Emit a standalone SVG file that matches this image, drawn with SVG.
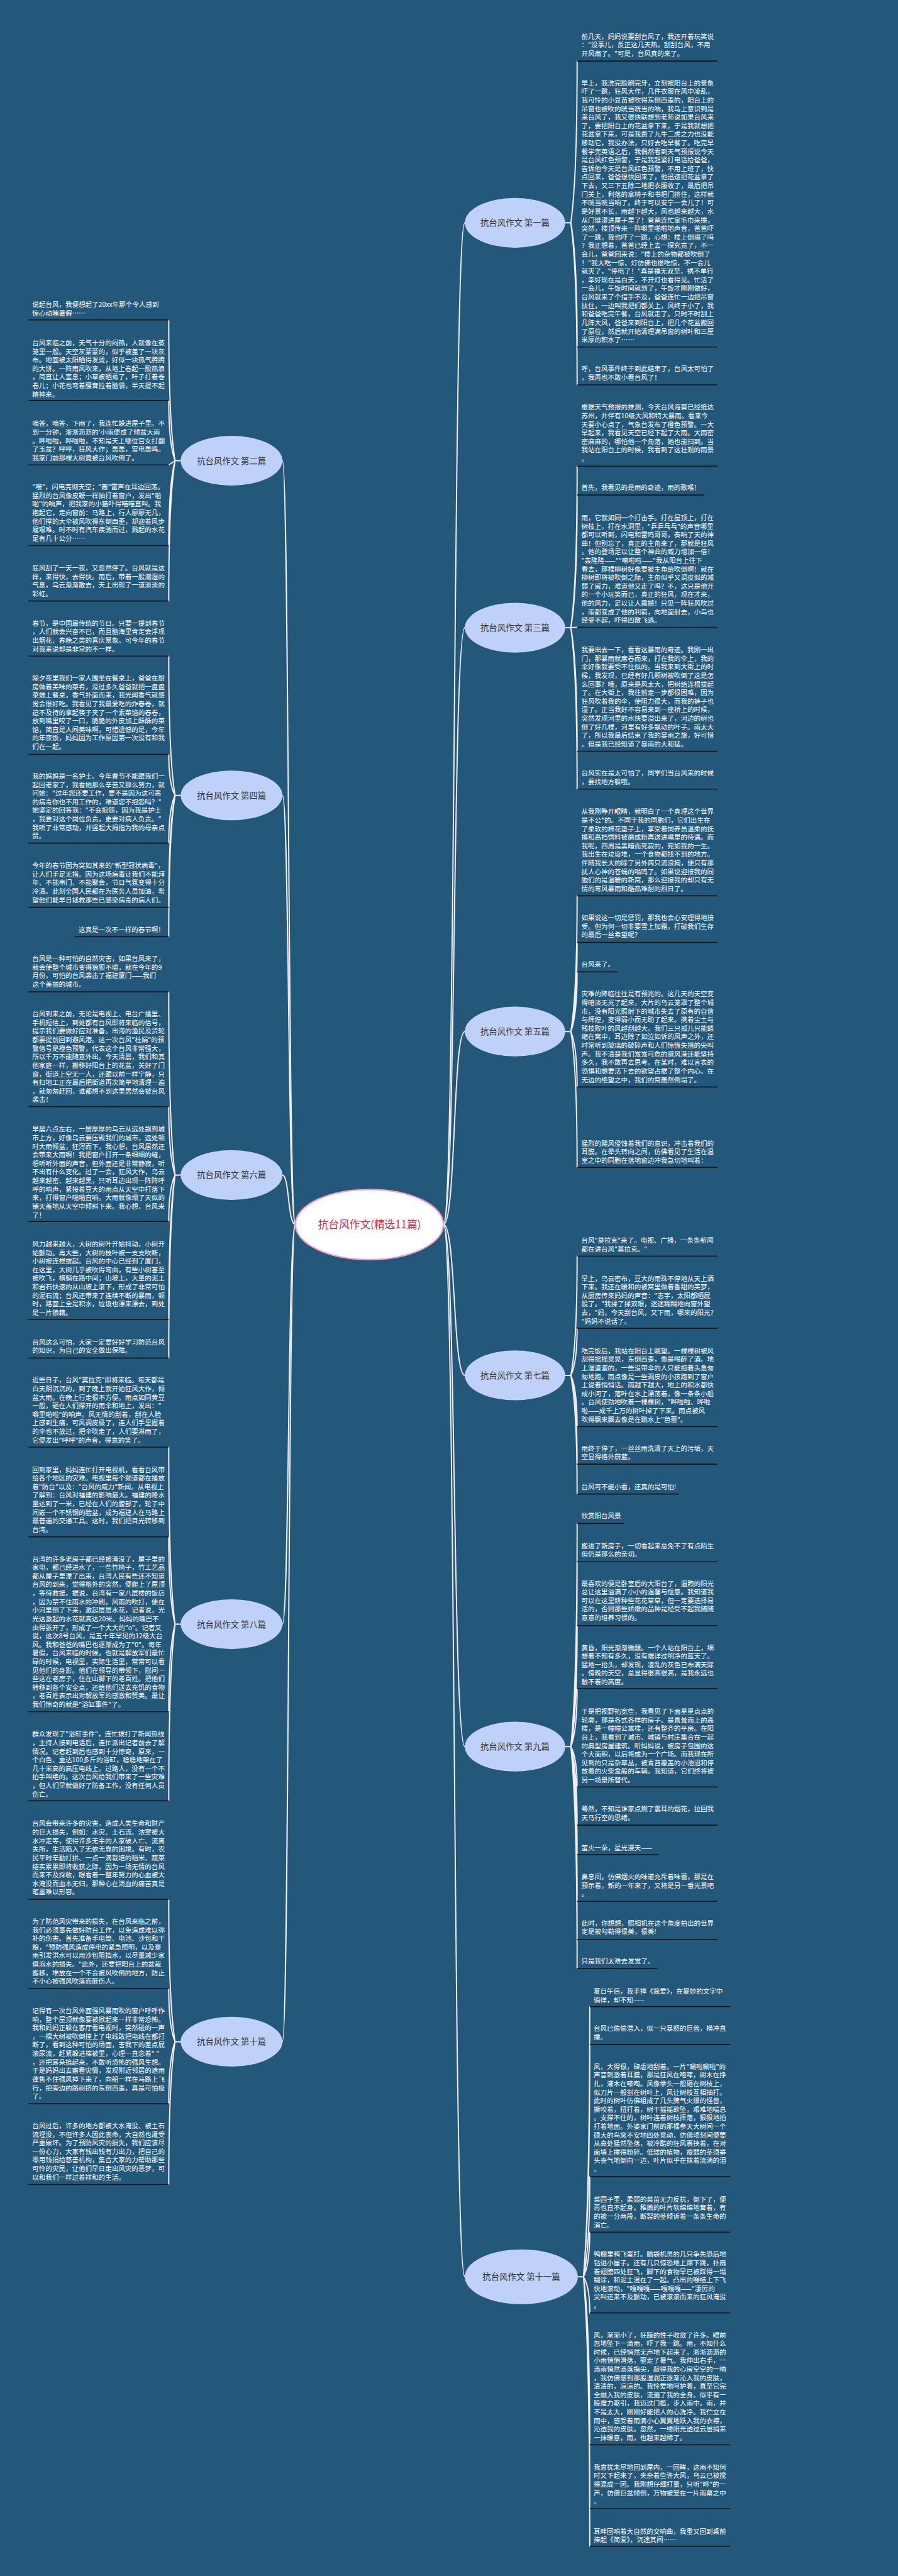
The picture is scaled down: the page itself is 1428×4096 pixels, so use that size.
<svg xmlns="http://www.w3.org/2000/svg" width="1428" height="4096" viewBox="0 0 1428 4096">
<style>
.t{font-family:"Noto Sans CJK SC","Noto Sans",sans-serif;font-size:18.9px;fill:#ffffff}
.ul{stroke:#141414;stroke-width:3;fill:none}
.c{fill:none;stroke:#f3edf5;stroke-width:3.5;stroke-linecap:round}
.bn{fill:#bfd1f8}
.bl{font-family:"Noto Sans CJK SC","Noto Sans",sans-serif;font-size:24px;fill:#333333;text-anchor:middle}
</style>
<rect width="1428" height="4096" fill="#24587a"/>
<g transform="scale(0.5579)">
<g id="connectors">
<path class="c" d="M1264 3490 C1300 3490 1290 635 1325 635"/>
<path class="c" d="M1264 3490 C1300 3490 1290 1789 1325 1789"/>
<path class="c" d="M1264 3490 C1300 3490 1290 2940 1325 2940"/>
<path class="c" d="M1264 3490 C1300 3490 1290 3920 1325 3920"/>
<path class="c" d="M1264 3490 C1300 3490 1290 4978 1325 4978"/>
<path class="c" d="M1264 3490 C1300 3490 1290 6489 1325 6489"/>
<path class="c" d="M842 3490 C820 3490 825 1313 805 1313"/>
<path class="c" d="M842 3490 C820 3490 825 2267 805 2267"/>
<path class="c" d="M842 3490 C820 3490 825 3349 805 3349"/>
<path class="c" d="M842 3490 C820 3490 825 4629 805 4629"/>
<path class="c" d="M842 3490 C820 3490 825 5819 805 5819"/>
<path class="c" d="M1611 635 H1627 M1627 635 Q1645 510 1645 174 M1627 635 Q1645 731 1645 989 M1627 635 Q1645 760 1645 1097"/>
<path class="c" d="M1611 1789 H1627 M1627 1789 Q1645 1665 1645 1329 M1627 1789 Q1645 1687 1645 1411 M1627 1789 L1645 1788 M1627 1789 Q1645 1884 1645 2141 M1627 1789 Q1645 1913 1645 2249"/>
<path class="c" d="M1611 2940 H1627 M1627 2940 Q1645 2835 1645 2553 M1627 2940 Q1645 2871 1645 2686 M1627 2940 Q1645 2894 1645 2770 M1627 2940 Q1645 2983 1645 3098 M1627 2940 Q1645 3045 1645 3327"/>
<path class="c" d="M1611 3920 H1627 M1627 3920 Q1645 3828 1645 3580 M1627 3920 Q1645 3884 1645 3786 M1627 3920 Q1645 3959 1645 4066 M1627 3920 Q1645 3988 1645 4173 M1627 3920 Q1645 4011 1645 4258"/>
<path class="c" d="M1611 4978 H1627 M1627 4978 Q1645 4806 1645 4342 M1627 4978 Q1645 4836 1645 4451 M1627 4978 Q1645 4885 1645 4633 M1627 4978 Q1645 4933 1645 4813 M1627 4978 Q1645 5009 1645 5093 M1627 4978 Q1645 5038 1645 5202 M1627 4978 Q1645 5061 1645 5286 M1627 4978 Q1645 5097 1645 5419 M1627 4978 Q1645 5126 1645 5528 M1627 4978 Q1645 5149 1645 5610"/>
<path class="c" d="M1647 6489 H1663 M1663 6489 Q1681 6281 1681 5719 M1663 6489 Q1681 6310 1681 5827 M1663 6489 Q1681 6412 1681 6204 M1663 6489 Q1681 6455 1681 6362 M1663 6489 Q1681 6517 1681 6592 M1663 6489 Q1681 6618 1681 6968 M1663 6489 Q1681 6667 1681 7150 M1663 6489 Q1681 6696 1681 7257"/>
<path class="c" d="M515 1313 H499 M499 1313 Q481 1205 481 912 M499 1313 Q481 1267 481 1142 M499 1313 L481 1325 M499 1313 Q481 1378 481 1555 M499 1313 Q481 1421 481 1713"/>
<path class="c" d="M515 2267 H499 M499 2267 Q481 2160 481 1870 M499 2267 Q481 2235 481 2150 M499 2267 Q481 2304 481 2403 M499 2267 Q481 2353 481 2586 M499 2267 Q481 2376 481 2670"/>
<path class="c" d="M515 3349 H499 M499 3349 Q481 3208 481 2827 M499 3349 Q481 3296 481 3154 M499 3349 Q481 3385 481 3481 M499 3349 Q481 3460 481 3761 M499 3349 Q481 3490 481 3871"/>
<path class="c" d="M515 4629 H499 M499 4629 Q481 4493 481 4124 M499 4629 Q481 4562 481 4380 M499 4629 Q481 4696 481 4879 M499 4629 Q481 4765 481 5132"/>
<path class="c" d="M515 5819 H499 M499 5819 Q481 5710 481 5414 M499 5819 Q481 5778 481 5668 M499 5819 Q481 5867 481 5996 M499 5819 Q481 5929 481 6226"/>
</g>
<g id="center"><ellipse cx="1053" cy="3490" rx="211" ry="100" fill="#ffffff" stroke="#f19ec2" stroke-width="4"/><text x="1053" y="3501" font-family="Noto Sans CJK SC, sans-serif" font-size="30" fill="#d9294d" text-anchor="middle">抗台风作文(精选11篇)</text></g>
<g id="n1"><ellipse class="bn" cx="1468" cy="635" rx="143" ry="71"/><text class="bl" x="1468" y="644">抗台风作文 第一篇</text></g>
<g id="n3"><ellipse class="bn" cx="1468" cy="1789" rx="143" ry="71"/><text class="bl" x="1468" y="1798">抗台风作文 第三篇</text></g>
<g id="n5"><ellipse class="bn" cx="1468" cy="2940" rx="143" ry="71"/><text class="bl" x="1468" y="2949">抗台风作文 第五篇</text></g>
<g id="n7"><ellipse class="bn" cx="1468" cy="3920" rx="143" ry="71"/><text class="bl" x="1468" y="3929">抗台风作文 第七篇</text></g>
<g id="n9"><ellipse class="bn" cx="1468" cy="4978" rx="143" ry="71"/><text class="bl" x="1468" y="4987">抗台风作文 第九篇</text></g>
<g id="n11"><ellipse class="bn" cx="1486" cy="6489" rx="161" ry="78"/><text class="bl" x="1486" y="6498">抗台风作文 第十一篇</text></g>
<g id="n2"><ellipse class="bn" cx="660" cy="1313" rx="145" ry="71"/><text class="bl" x="660" y="1322">抗台风作文 第二篇</text></g>
<g id="n4"><ellipse class="bn" cx="660" cy="2267" rx="145" ry="71"/><text class="bl" x="660" y="2276">抗台风作文 第四篇</text></g>
<g id="n6"><ellipse class="bn" cx="660" cy="3349" rx="145" ry="71"/><text class="bl" x="660" y="3358">抗台风作文 第六篇</text></g>
<g id="n8"><ellipse class="bn" cx="660" cy="4629" rx="145" ry="71"/><text class="bl" x="660" y="4638">抗台风作文 第八篇</text></g>
<g id="n10"><ellipse class="bn" cx="660" cy="5819" rx="145" ry="71"/><text class="bl" x="660" y="5828">抗台风作文 第十篇</text></g>

<g id="b1a"><text class="t"><tspan x="1657" y="110.7">前几天，妈妈说要刮台风了，我还开着玩笑说</tspan><tspan x="1657" dy="24.4">："没事儿，反正这几天热，刮刮台风，不用</tspan><tspan x="1657" dy="24.4">开风扇了。"可是，台风真的来了。</tspan></text><path class="ul" d="M1645 174 H2045"/></g>
<g id="b1b"><text class="t"><tspan x="1657" y="243.3">早上，我洗完脸刷完牙，立刻被阳台上的景象</tspan><tspan x="1657" dy="24.4">吓了一跳，狂风大作，几件衣服在风中凌乱，</tspan><tspan x="1657" dy="24.4">我可怜的小豆苗被吹得东倒西歪的，阳台上的</tspan><tspan x="1657" dy="24.4">吊窗也被吹的咣当咣当的响，我马上意识到是</tspan><tspan x="1657" dy="24.4">来台风了，我又很快联想到老师说如果台风来</tspan><tspan x="1657" dy="24.4">了，要把阳台上的花盆拿下来，于是我就想把</tspan><tspan x="1657" dy="24.4">花盆拿下来，可是我费了九牛二虎之力也没能</tspan><tspan x="1657" dy="24.4">移动它，我没办法，只好去吃早餐了。吃完早</tspan><tspan x="1657" dy="24.4">餐学完英语之后，我偶然看到天气预报说今天</tspan><tspan x="1657" dy="24.4">是台风红色预警，于是我赶紧打电话给爸爸，</tspan><tspan x="1657" dy="24.4">告诉他今天是台风红色预警，不用上班了，快</tspan><tspan x="1657" dy="24.4">点回来，爸爸很快回来了，他迅速把花盆拿了</tspan><tspan x="1657" dy="24.4">下去，又三下五除二地把衣服收了，最后把吊</tspan><tspan x="1657" dy="24.4">门关上，利落的拿椅子和书把门挤住，这样就</tspan><tspan x="1657" dy="24.4">不咣当咣当响了。终于可以安宁一会儿了！可</tspan><tspan x="1657" dy="24.4">是好景不长，雨越下越大，风也越来越大，水</tspan><tspan x="1657" dy="24.4">从门缝漫进屋子里了！爸爸连忙拿毛巾来擦，</tspan><tspan x="1657" dy="24.4">突然，楼顶传来一阵噼里啪啦地声音，爸爸吓</tspan><tspan x="1657" dy="24.4">了一跳，我也吓了一跳，心想：楼上倒塌了吗</tspan><tspan x="1657" dy="24.4">？我正想着，爸爸已经上去一探究竟了，不一</tspan><tspan x="1657" dy="24.4">会儿，爸爸回来说："楼上的杂物都被吹倒了</tspan><tspan x="1657" dy="24.4">！"我大吃一惊，灯仿佛也很吃惊，不一会儿</tspan><tspan x="1657" dy="24.4">就灭了，"停电了！"真是福无双至，祸不单行</tspan><tspan x="1657" dy="24.4">，幸好现在是白天，不开灯也看得见。忙活了</tspan><tspan x="1657" dy="24.4">一会儿，午饭时间就到了，午饭才刚刚做好，</tspan><tspan x="1657" dy="24.4">台风就来了个措手不及，爸爸连忙一边把吊窗</tspan><tspan x="1657" dy="24.4">扶住，一边叫我把们都关上，风终于小了，我</tspan><tspan x="1657" dy="24.4">和爸爸吃完午餐，台风就走了。只时不时刮上</tspan><tspan x="1657" dy="24.4">几阵大风，爸爸来到阳台上，把几个花盆搬回</tspan><tspan x="1657" dy="24.4">了原位，然后就开始清理满吊窗的树叶和三厘</tspan><tspan x="1657" dy="24.4">米厚的积水了……</tspan></text><path class="ul" d="M1645 989 H2045"/></g>
<g id="b1c"><text class="t"><tspan x="1657" y="1058">呼，台风事件终于到此结束了，台风太可怕了</tspan><tspan x="1657" dy="24.4">，我再也不敢小看台风了！</tspan></text><path class="ul" d="M1645 1097 H2045"/></g>

<g id="b3a"><text class="t"><tspan x="1657" y="1167.4">根据天气预报的推测，今天台风海葵已经抵达</tspan><tspan x="1657" dy="24.4">苏州，并伴有10级大风和特大暴雨。看来今</tspan><tspan x="1657" dy="24.4">天要小心点了，气象台发布了橙色预警。一大</tspan><tspan x="1657" dy="24.4">早起来，我看见天空已经下起了大雨。大雨密</tspan><tspan x="1657" dy="24.4">密麻麻的，哪怕他一个角落，她也能扫到。当</tspan><tspan x="1657" dy="24.4">我站在阳台上的时候，我看到了这壮观的雨景</tspan><tspan x="1657" dy="24.4">。</tspan></text><path class="ul" d="M1645 1329 H2045"/></g>
<g id="b3b"><text class="t"><tspan x="1657" y="1397">首先，我看见的是雨的奇迹，雨的歌喉！</tspan></text><path class="ul" d="M1645 1411 H2007"/></g>
<g id="b3c"><text class="t"><tspan x="1657" y="1482.2">雨，它就如同一个打击手。打在屋顶上，打在</tspan><tspan x="1657" dy="24.4">树枝上，打在水洞里，"乒乒乓乓"的声音哪里</tspan><tspan x="1657" dy="24.4">都可以听到，闪电和雷鸣哥哥，奏响了天的神</tspan><tspan x="1657" dy="24.4">曲！但别忘了，真正的主角来了，那就是狂风</tspan><tspan x="1657" dy="24.4">。他的登场足以让整个神曲的威力增加一倍！</tspan><tspan x="1657" dy="24.4">"轰隆隆——""嚓啦啦——"我从阳台上往下</tspan><tspan x="1657" dy="24.4">看去，那棵柳树好像要被主角给吹倒啊！就在</tspan><tspan x="1657" dy="24.4">柳树即将被吹倒之际，主角似乎又调皮似的减</tspan><tspan x="1657" dy="24.4">弱了威力，难道他又走了吗？不，这只是他开</tspan><tspan x="1657" dy="24.4">的一个小玩笑而已，真正的狂风，现在才来，</tspan><tspan x="1657" dy="24.4">他的风力，足以让人震撼！只见一阵狂风吹过</tspan><tspan x="1657" dy="24.4">，雨都变成了他的利箭，向地面射去，小鸟也</tspan><tspan x="1657" dy="24.4">经受不起，吓得四散飞逃。</tspan></text><path class="ul" d="M1645 1788 H2045"/></g>
<g id="b3d"><text class="t"><tspan x="1657" y="1859">我要出去一下，看看这暴雨的奇迹。我刚一出</tspan><tspan x="1657" dy="24.4">门，那暴雨就席卷而来，打在我的伞上，我的</tspan><tspan x="1657" dy="24.4">伞好像就要受不住似的。当我来到大街上的时</tspan><tspan x="1657" dy="24.4">候，我发现，已经有好几颗树被吹倒了这是怎</tspan><tspan x="1657" dy="24.4">么回事？哦，原来是风太大，把树给连根拔起</tspan><tspan x="1657" dy="24.4">了。在大街上，我往前走一步都很困难，因为</tspan><tspan x="1657" dy="24.4">狂风吹着我的伞，使阻力很大，而我的裤子也</tspan><tspan x="1657" dy="24.4">湿了。正当我好不容易来到一座桥上的时候，</tspan><tspan x="1657" dy="24.4">突然发现河里的水快要溢出来了，河边的树也</tspan><tspan x="1657" dy="24.4">倒了好几棵，河里有好多飘动的叶子。雨太大</tspan><tspan x="1657" dy="24.4">了，所以我最后结束了我的暴雨之旅，好可惜</tspan><tspan x="1657" dy="24.4">。但是我已经知道了暴雨的大和猛。</tspan></text><path class="ul" d="M1645 2141 H2045"/></g>
<g id="b3e"><text class="t"><tspan x="1657" y="2210.8">台风实在是太可怕了，同学们当台风来的时候</tspan><tspan x="1657" dy="24.4">，要找地方躲哦。</tspan></text><path class="ul" d="M1645 2249 H2045"/></g>

<g id="b5a"><text class="t"><tspan x="1657" y="2320">从我刚睁开眼睛，就明白了一个真理这个世界</tspan><tspan x="1657" dy="24.4">是不公*的。不同于我的同胞们，它们出生在</tspan><tspan x="1657" dy="24.4">了柔软的棉花垫子上，享受着饲养员温柔的抚</tspan><tspan x="1657" dy="24.4">摸和高档饲料被磨成粉再送进嘴里的待遇。而</tspan><tspan x="1657" dy="24.4">我呢，四周是黑暗而死寂的，宛如我的一生。</tspan><tspan x="1657" dy="24.4">我出生在垃圾堆，一个食物都找不到的地方。</tspan><tspan x="1657" dy="24.4">伴随我长大的除了另外两只流浪狗，便只有那</tspan><tspan x="1657" dy="24.4">扰人心神的苍蝇的嗡鸣了。如果说迎接我的同</tspan><tspan x="1657" dy="24.4">胞们的是温暖的新窝，那么迎接我的却只有无</tspan><tspan x="1657" dy="24.4">情的寒风暴雨和酷热难耐的烈日了。</tspan></text><path class="ul" d="M1645 2553 H2045"/></g>
<g id="b5b"><text class="t"><tspan x="1657" y="2622.6">如果说这一切是惩罚，那我也会心安理得地接</tspan><tspan x="1657" dy="24.4">受。但为何一切非要雪上加霜，打破我们生存</tspan><tspan x="1657" dy="24.4">的最后一丝希望呢？</tspan></text><path class="ul" d="M1645 2686 H2045"/></g>
<g id="b5c"><text class="t"><tspan x="1657" y="2755">台风来了。</tspan></text><path class="ul" d="M1645 2770 H1760"/></g>
<g id="b5d"><text class="t"><tspan x="1657" y="2840">灾难的降临往往是有预兆的。这几天的天空变</tspan><tspan x="1657" dy="24.4">得暗淡无光了起来，大片的乌云笼罩了整个城</tspan><tspan x="1657" dy="24.4">市，没有阳光照射下的城市失去了原有的自信</tspan><tspan x="1657" dy="24.4">与辉煌，变得弱小而无助了起来。携着尘土与</tspan><tspan x="1657" dy="24.4">残枝败叶的风越刮越大。我们三只孤儿只能蜷</tspan><tspan x="1657" dy="24.4">缩在窝中，耳边除了如泣如诉的风声之外，还</tspan><tspan x="1657" dy="24.4">时常听到玻璃的破碎声和人们惊慌失措的尖叫</tspan><tspan x="1657" dy="24.4">声。我不清楚我们岌岌可危的避风港还能坚持</tspan><tspan x="1657" dy="24.4">多久，我不敢再去思考。在某时，难以言表的</tspan><tspan x="1657" dy="24.4">恐惧和想要活下去的欲望占据了整个内心。在</tspan><tspan x="1657" dy="24.4">无边的绝望之中，我们的窝轰然倒塌了。</tspan></text><path class="ul" d="M1645 3098 H2045"/></g>
<g id="b5e"><text class="t"><tspan x="1657" y="3265.5">猛烈的飓风侵蚀着我们的意识，冲击着我们的</tspan><tspan x="1657" dy="24.4">耳膜。在晕头转向之间，仿佛看见了生活在温</tspan><tspan x="1657" dy="24.4">室之中的同胞在落地窗边冲我急切地叫着：</tspan></text><path class="ul" d="M1645 3327 H2045"/></g>

<g id="b7a"><text class="t"><tspan x="1657" y="3542">台风"莫拉克"来了。电视、广播，一条条新闻</tspan><tspan x="1657" dy="24.4">都在讲台风"莫拉克。"</tspan></text><path class="ul" d="M1645 3580 H2045"/></g>
<g id="b7b"><text class="t"><tspan x="1657" y="3650.5">早上，乌云密布，豆大的雨珠不停地从天上洒</tspan><tspan x="1657" dy="24.4">下来。我还在暖和的被窝里做着香甜的美梦，</tspan><tspan x="1657" dy="24.4">从厨房传来妈妈的声音："志宇，太阳都晒屁</tspan><tspan x="1657" dy="24.4">股了。"我揉了揉双眼，迷迷糊糊地向窗外望</tspan><tspan x="1657" dy="24.4">去，"妈，今天刮台风，又下雨，哪来的阳光？</tspan><tspan x="1657" dy="24.4">"妈妈不说话了。</tspan></text><path class="ul" d="M1645 3786 H2045"/></g>
<g id="b7c"><text class="t"><tspan x="1657" y="3856.8">吃完饭后，我站在阳台上眺望。一棵棵树被风</tspan><tspan x="1657" dy="24.4">刮得摇摇晃晃，东倒西歪，像是喝醉了酒。地</tspan><tspan x="1657" dy="24.4">上湿漉漉的，一些没带伞的人只能抱着头急匆</tspan><tspan x="1657" dy="24.4">匆地跑。雨点像是一些调皮的小孩跑到了窗户</tspan><tspan x="1657" dy="24.4">上说着悄悄话。雨越下越大，地上的积水都快</tspan><tspan x="1657" dy="24.4">成小河了，落叶在水上漂荡着，像一条条小船</tspan><tspan x="1657" dy="24.4">。台风使劲地吹着一棵棵树，"哗啦啦、哗啦</tspan><tspan x="1657" dy="24.4">啦——成千上万的树叶掉了下来。雨点被风</tspan><tspan x="1657" dy="24.4">吹得飘来飘去像是在跳水上"芭蕾"。</tspan></text><path class="ul" d="M1645 4066 H2045"/></g>
<g id="b7d"><text class="t"><tspan x="1657" y="4134.7">雨终于停了，一丝丝雨洗清了天上的污垢，天</tspan><tspan x="1657" dy="24.4">空显得格外蔚蓝。</tspan></text><path class="ul" d="M1645 4173 H2045"/></g>
<g id="b7e"><text class="t"><tspan x="1657" y="4245">台风可不能小看，还真的是可怕!</tspan></text><path class="ul" d="M1645 4258 H1936"/></g>

<g id="b9a"><text class="t"><tspan x="1657" y="4327.6">欣赏阳台风景</tspan></text><path class="ul" d="M1645 4342 H1778"/></g>
<g id="b9b"><text class="t"><tspan x="1657" y="4412.6">搬进了新房子，一切看起来总免不了有点陌生</tspan><tspan x="1657" dy="24.4">但仍是那么的亲切。</tspan></text><path class="ul" d="M1645 4451 H2045"/></g>
<g id="b9c"><text class="t"><tspan x="1657" y="4519.8">最喜欢的便是卧室后的大阳台了，温煦的阳光</tspan><tspan x="1657" dy="24.4">总让这里溢满了小小的温馨与惬意。我知道我</tspan><tspan x="1657" dy="24.4">可以在这里耕种些花花草草，但一定要选择易</tspan><tspan x="1657" dy="24.4">活的，否则那些娇嫩的品种是经受不起我随随</tspan><tspan x="1657" dy="24.4">意意的培养习惯的。</tspan></text><path class="ul" d="M1645 4633 H2045"/></g>
<g id="b9d"><text class="t"><tspan x="1657" y="4702.6">黄昏，阳光渐渐微醺。一个人站在阳台上，细</tspan><tspan x="1657" dy="24.4">想着不知有多久，没有端详过明净的蓝天了。</tspan><tspan x="1657" dy="24.4">猛地一抬头，却发现，凌乱的灰色已布满天际</tspan><tspan x="1657" dy="24.4">。傍晚的天空，总显得很高很高，是我永远也</tspan><tspan x="1657" dy="24.4">触不着的高度。</tspan></text><path class="ul" d="M1645 4813 H2045"/></g>
<g id="b9e"><text class="t"><tspan x="1657" y="4884.7">于是把视野拓宽些，我看见了下面星星点点的</tspan><tspan x="1657" dy="24.4">轮廓，那是各式各样的房子。是直耸而上的高</tspan><tspan x="1657" dy="24.4">楼，是一幢幢公寓楼，还有整齐的平房。在阳</tspan><tspan x="1657" dy="24.4">台上，我看到了城市、城镇与村庄集合在一起</tspan><tspan x="1657" dy="24.4">的典型房屋建筑。听妈妈说，被房子包围的这</tspan><tspan x="1657" dy="24.4">个大面积，以后将成为一个广场。而我现在所</tspan><tspan x="1657" dy="24.4">见到的只是杂草丛，被青苔覆盖的小池沼和停</tspan><tspan x="1657" dy="24.4">放着的火柴盒般的车辆。我知道，它们终将被</tspan><tspan x="1657" dy="24.4">另一场景所替代。</tspan></text><path class="ul" d="M1645 5093 H2045"/></g>
<g id="b9f"><text class="t"><tspan x="1657" y="5163">蓦然，不知是谁家点燃了震耳的烟花，拉回我</tspan><tspan x="1657" dy="24.4">天马行空的思绪。</tspan></text><path class="ul" d="M1645 5202 H2045"/></g>
<g id="b9g"><text class="t"><tspan x="1657" y="5272.5">萤火一朵，星光漫天——</tspan></text><path class="ul" d="M1645 5286 H1877"/></g>
<g id="b9h"><text class="t"><tspan x="1657" y="5355.6">鼻息间，仿佛烟火的味道充斥着味蕾，那是在</tspan><tspan x="1657" dy="24.4">预示着，新的一年来了，又将是另一番光景吧</tspan><tspan x="1657" dy="24.4">。</tspan></text><path class="ul" d="M1645 5419 H2045"/></g>
<g id="b9i"><text class="t"><tspan x="1657" y="5488">此时，你想想，照相机在这个角度拍出的世界</tspan><tspan x="1657" dy="24.4">定是被勾勒得很美，很美!</tspan></text><path class="ul" d="M1645 5528 H2045"/></g>
<g id="b9j"><text class="t"><tspan x="1657" y="5596.6">只是我们太难去发觉了。</tspan></text><path class="ul" d="M1645 5610 H1874"/></g>

<g id="b11a"><text class="t"><tspan x="1692" y="5682">夏日午后，我手捧《简爱》，在曼妙的文字中</tspan><tspan x="1692" dy="24.4">徜徉，却不知——</tspan></text><path class="ul" d="M1681 5719 H2081"/></g>
<g id="b11b"><text class="t"><tspan x="1692" y="5788">台风已偷偷潜入，似一只暴怒的巨兽，横冲直</tspan><tspan x="1692" dy="24.4">撞。</tspan></text><path class="ul" d="M1681 5827 H2081"/></g>
<g id="b11c"><text class="t"><tspan x="1692" y="5896.6">风，大得很，肆虐地刮着。一片"唰啦唰啦"的</tspan><tspan x="1692" dy="24.4">声音刺激着耳膜，那是狂风在咆哮，树木在挣</tspan><tspan x="1692" dy="24.4">扎，灌木在嚎啕。风像拳头一般砸在树枝上，</tspan><tspan x="1692" dy="24.4">似刀片一般割在树叶上，风让树枝互相抽打。</tspan><tspan x="1692" dy="24.4">此时的树叶仿佛组成了几头脾气火爆的怪兽，</tspan><tspan x="1692" dy="24.4">撕咬着，扭打着，树干摇摇欲坠，艰难地喘息</tspan><tspan x="1692" dy="24.4">。支撑不住的，树叶连着树枝摔落，狠狠地拍</tspan><tspan x="1692" dy="24.4">打着地面。外婆家门前的那棵参天大树间一个</tspan><tspan x="1692" dy="24.4">硕大的鸟窝不安地四处晃动，仿佛顷刻间便要</tspan><tspan x="1692" dy="24.4">从高处猛然坠落，被冷酷的狂风裹挟着，在对</tspan><tspan x="1692" dy="24.4">面墙上撞得粉碎。低矮的植物，瘦弱的茎须垂</tspan><tspan x="1692" dy="24.4">头丧气地倒向一边，叶片似乎在抹着流淌的泪</tspan><tspan x="1692" dy="24.4">。</tspan></text><path class="ul" d="M1681 6204 H2081"/></g>
<g id="b11d"><text class="t"><tspan x="1692" y="6275">菜园子里，柔弱的菜苗无力反抗，倒下了，便</tspan><tspan x="1692" dy="24.4">再也直不起身。稚嫩的叶片软绵绵地耷着，有</tspan><tspan x="1692" dy="24.4">的被一分两段，断裂的茎倾诉着一条条生命的</tspan><tspan x="1692" dy="24.4">消亡。</tspan></text><path class="ul" d="M1681 6362 H2081"/></g>
<g id="b11e"><text class="t"><tspan x="1692" y="6432">鸭棚里鸭飞蛋打。脑袋机灵的几只争先恐后地</tspan><tspan x="1692" dy="24.4">钻进小屋子。还有几只惊恐地上蹿下跳，扑扇</tspan><tspan x="1692" dy="24.4">着翅膀四处狂飞，脚下的食物早已被踩得一塌</tspan><tspan x="1692" dy="24.4">糊涂，和泥土混在了一起。凸出的喉结上下飞</tspan><tspan x="1692" dy="24.4">快地滚动，"嘎嘎嘎——嘎嘎嘎——"凄厉的</tspan><tspan x="1692" dy="24.4">尖叫还来不及颤动，已被滚滚而来的狂风淹没</tspan><tspan x="1692" dy="24.4">。</tspan></text><path class="ul" d="M1681 6592 H2081"/></g>
<g id="b11f"><text class="t"><tspan x="1692" y="6661.7">风，渐渐小了，狂躁的性子收敛了许多。眼前</tspan><tspan x="1692" dy="24.4">忽地坠下一滴雨，吓了我一跳。雨，不知什么</tspan><tspan x="1692" dy="24.4">时候，已经悄然无声地下起来了。淅淅沥沥的</tspan><tspan x="1692" dy="24.4">小雨悄悄滑落，驱走了暑气。我伸出右手，一</tspan><tspan x="1692" dy="24.4">滴雨悄然滴落指尖，敲得我的心房空空的一响</tspan><tspan x="1692" dy="24.4">，我仿佛感到那股湿润正逐渐沁入我的皮肤，</tspan><tspan x="1692" dy="24.4">清清的，凉凉的。我怜爱地呵护着，直至它完</tspan><tspan x="1692" dy="24.4">全融入我的皮肤，流遍了我的全身。似乎有一</tspan><tspan x="1692" dy="24.4">股魔力驱引，我迈过门槛，步入雨中。雨，并</tspan><tspan x="1692" dy="24.4">不是太大，刚刚好能把人的心洗净。我伫立在</tspan><tspan x="1692" dy="24.4">雨中，感受着雨滴小心翼翼地跃入我的衣襟，</tspan><tspan x="1692" dy="24.4">沁透我的皮肤。忽然，一缕阳光透过云层捎来</tspan><tspan x="1692" dy="24.4">一抹暖意，雨，也越来越稀了。</tspan></text><path class="ul" d="M1681 6968 H2081"/></g>
<g id="b11g"><text class="t"><tspan x="1692" y="7038.5">我意犹未尽地回到屋内，一回眸，这雨不知何</tspan><tspan x="1692" dy="24.4">时又下起来了，夹杂着些许大风，乌云已被搅</tspan><tspan x="1692" dy="24.4">得混成一团。我刚想仔细打量，只听"哗"的一</tspan><tspan x="1692" dy="24.4">声，仿佛巨盆倾倒，万物被笼在一片雨幕之中</tspan><tspan x="1692" dy="24.4">。</tspan></text><path class="ul" d="M1681 7150 H2081"/></g>
<g id="b11h"><text class="t"><tspan x="1692" y="7221">耳畔回响着大自然的交响曲，我重又回到桌前</tspan><tspan x="1692" dy="24.4">捧起《简爱》，沉迷其间……</tspan></text><path class="ul" d="M1681 7257 H2081"/></g>

<g id="b2a"><text class="t"><tspan x="92" y="875">说起台风，我便想起了20xx年那个令人感到</tspan><tspan x="92" dy="24.4">惊心动魄暑假……</tspan></text><path class="ul" d="M81 911.6 H481"/></g>
<g id="b2b"><text class="t"><tspan x="92" y="984">台风来临之前，天气十分的闷热，人就像在蒸</tspan><tspan x="92" dy="24.4">笼里一般。天空灰蒙蒙的，似乎被盖了一块灰</tspan><tspan x="92" dy="24.4">布。地面被太阳晒得发烫，好似一块热气腾腾</tspan><tspan x="92" dy="24.4">的大饼。一阵南风吹来，从地上卷起一股热浪</tspan><tspan x="92" dy="24.4">，简直让人窒息；小草被晒蔫了，叶子打着卷</tspan><tspan x="92" dy="24.4">卷儿；小花也弯着腰耷拉着脑袋，半天提不起</tspan><tspan x="92" dy="24.4">精神来。</tspan></text><path class="ul" d="M81 1141.7 H481"/></g>
<g id="b2c"><text class="t"><tspan x="92" y="1214">嘀答，嘀答，下雨了，我连忙躲进屋子里。不</tspan><tspan x="92" dy="24.4">到一分钟，淅淅沥沥的'小雨便成了倾盆大雨</tspan><tspan x="92" dy="24.4">。哗啦啦，哗啦啦，不知是天上哪位宫女打翻</tspan><tspan x="92" dy="24.4">了玉盆？呼呼，狂风大作；轰轰，雷电轰鸣。</tspan><tspan x="92" dy="24.4">我家门前那棵大树竟被台风吹倒了。</tspan></text><path class="ul" d="M81 1325 H481"/></g>
<g id="b2d"><text class="t"><tspan x="92" y="1395">"嗖"，闪电亮彻天空；"轰"雷声在耳边回荡。</tspan><tspan x="92" dy="24.4">猛烈的台风像皮鞭一样抽打着窗户，发出"啪</tspan><tspan x="92" dy="24.4">啪"的响声，把我家的小猫吓得喵喵直叫。我</tspan><tspan x="92" dy="24.4">抱起它，走向窗前：马路上，行人廖廖无几，</tspan><tspan x="92" dy="24.4">他们撑的大伞被风吹得东倒西歪，却迎着风步</tspan><tspan x="92" dy="24.4">履艰难。时不时有汽车疾驰而过，溅起的水花</tspan><tspan x="92" dy="24.4">足有几十公分……</tspan></text><path class="ul" d="M81 1555 H481"/></g>
<g id="b2e"><text class="t"><tspan x="92" y="1626">狂风刮了一天一夜，又忽然停了。台风就是这</tspan><tspan x="92" dy="24.4">样，来得快，去得快。雨后，带着一股潮湿的</tspan><tspan x="92" dy="24.4">气息，乌云渐渐散去，天上出现了一道淡淡的</tspan><tspan x="92" dy="24.4">彩虹。</tspan></text><path class="ul" d="M81 1713 H481"/></g>

<g id="b4a"><text class="t"><tspan x="92" y="1783">春节，是中国最传统的节日。只要一提到春节</tspan><tspan x="92" dy="24.4">，人们就会兴奋不已，而且脑海里肯定会浮现</tspan><tspan x="92" dy="24.4">出烟花、春晚之类的喜庆景象。可今年的春节</tspan><tspan x="92" dy="24.4">对我来说却是非常的不一样。</tspan></text><path class="ul" d="M81 1870 H481"/></g>
<g id="b4b"><text class="t"><tspan x="92" y="1939.7">除夕夜里我们一家人围坐在餐桌上，爸爸在厨</tspan><tspan x="92" dy="24.4">房做着美味的菜肴，没过多久爸爸就把一盘盘</tspan><tspan x="92" dy="24.4">菜端上餐桌，香气扑面而来，我光闻香气就感</tspan><tspan x="92" dy="24.4">觉会很好吃。我看见了我最爱吃的炸春卷，就</tspan><tspan x="92" dy="24.4">迫不及待的拿起筷子夹了一个素菜馅的春卷，</tspan><tspan x="92" dy="24.4">放到嘴里咬了一口，脆脆的外皮加上酥酥的菜</tspan><tspan x="92" dy="24.4">馅，简直是人间美味啊，可惜遗憾的是，今年</tspan><tspan x="92" dy="24.4">的年夜饭，妈妈因为工作原因第一次没有和我</tspan><tspan x="92" dy="24.4">们在一起。</tspan></text><path class="ul" d="M81 2149.7 H481"/></g>
<g id="b4c"><text class="t"><tspan x="92" y="2219">我的妈妈是一名护士。今年春节不能跟我们一</tspan><tspan x="92" dy="24.4">起回老家了，我看她那么辛苦又那么努力，就</tspan><tspan x="92" dy="24.4">问她："过年您还要工作，要不是因为这可恶</tspan><tspan x="92" dy="24.4">的病毒你也不用工作的，难道您不抱怨吗？"</tspan><tspan x="92" dy="24.4">她坚定的回答我："不会抱怨，因为我是护士</tspan><tspan x="92" dy="24.4">，我要对这个岗位负责，更要对病人负责。"</tspan><tspan x="92" dy="24.4">我听了非常感动，并竖起大拇指为我的母亲点</tspan><tspan x="92" dy="24.4">赞。</tspan></text><path class="ul" d="M81 2403 H481"/></g>
<g id="b4d"><text class="t"><tspan x="92" y="2474">今年的春节因为突如其来的"新型冠状病毒"，</tspan><tspan x="92" dy="24.4">让人们手足无措。因为这场病毒让我们不能拜</tspan><tspan x="92" dy="24.4">年、不能串门、不能聚会，节日气氛变得十分</tspan><tspan x="92" dy="24.4">冷清。此刻全国人民都在为医务人员加油，希</tspan><tspan x="92" dy="24.4">望他们能早日拯救那些已感染病毒的病人们。</tspan></text><path class="ul" d="M81 2585.7 H481"/></g>
<g id="b4e"><text class="t"><tspan x="224" y="2656">这真是一次不一样的春节啊！</tspan></text><path class="ul" d="M214 2669.7 H481"/></g>

<g id="b6a"><text class="t"><tspan x="92" y="2738.7">台风是一种可怕的自然灾害，如果台风来了，</tspan><tspan x="92" dy="24.4">就会使整个城市变得狼狈不堪，就在今年的9</tspan><tspan x="92" dy="24.4">月份，可怕的台风袭击了福建厦门——我们</tspan><tspan x="92" dy="24.4">这个美丽的城市。</tspan></text><path class="ul" d="M81 2826.8 H481"/></g>
<g id="b6b"><text class="t"><tspan x="92" y="2897">台风到来之前，无论是电视上、电台广播里、</tspan><tspan x="92" dy="24.4">手机短信上，到处都有台风即将来临的信号，</tspan><tspan x="92" dy="24.4">提示我们要做好应对准备。出海的渔民及货轮</tspan><tspan x="92" dy="24.4">都要提前回到避风港。这一次台风"杜娟"的预</tspan><tspan x="92" dy="24.4">警信号是橙色预警，代表这个台风非常强大，</tspan><tspan x="92" dy="24.4">所以千万不能随意外出。今天清晨，我们和其</tspan><tspan x="92" dy="24.4">他家庭一样，搬移好阳台上的花盆，关好了门</tspan><tspan x="92" dy="24.4">窗，街道上空无一人，还跟以前一样宁静，只</tspan><tspan x="92" dy="24.4">有扫地工正在最后把街道再次简单地清理一遍</tspan><tspan x="92" dy="24.4">，就匆匆赶回，谁都想不到这里居然会被台风</tspan><tspan x="92" dy="24.4">袭击！</tspan></text><path class="ul" d="M81 3154 H481"/></g>
<g id="b6c"><text class="t"><tspan x="92" y="3225.3">早晨六点左右，一层厚厚的乌云从远处飘到城</tspan><tspan x="92" dy="24.4">市上方，好像乌云要压毁我们的城市，远处顿</tspan><tspan x="92" dy="24.4">时大雨倾盆，狂泻而下，我心想，台风居然还</tspan><tspan x="92" dy="24.4">会带来大雨啊！我把窗户打开一条细细的缝，</tspan><tspan x="92" dy="24.4">想听听外面的声音，但外面还是非常静寂，听</tspan><tspan x="92" dy="24.4">不出有什么变化。过了一会，狂风大作，乌云</tspan><tspan x="92" dy="24.4">越来越密、越来越黑，只听耳边出现一阵阵呼</tspan><tspan x="92" dy="24.4">呼的响声，紧接着豆大的雨点从天空中打落下</tspan><tspan x="92" dy="24.4">来，打得窗户啪啪直响。大雨就像塌了天似的</tspan><tspan x="92" dy="24.4">铺天盖地从天空中倾斜下来。我心想，台风来</tspan><tspan x="92" dy="24.4">了！</tspan></text><path class="ul" d="M81 3481 H481"/></g>
<g id="b6d"><text class="t"><tspan x="92" y="3552.5">风力越来越大，大树的树叶开始抖动，小树开</tspan><tspan x="92" dy="24.4">始颤动。再大些，大树的枝叶被一支支吹断，</tspan><tspan x="92" dy="24.4">小树被连根拔起。台风的中心已经到了厦门，</tspan><tspan x="92" dy="24.4">在这里，大树几乎被吹得弯曲，有些小树甚至</tspan><tspan x="92" dy="24.4">被吹飞，横躺在路中间；山坡上，大量的泥土</tspan><tspan x="92" dy="24.4">和岩石快速的从山坡上滚下，形成了非常可怕</tspan><tspan x="92" dy="24.4">的泥石流；台风还带来了连续不断的暴雨，顿</tspan><tspan x="92" dy="24.4">时，路面上全是积水，垃圾也漂来漂去，到处</tspan><tspan x="92" dy="24.4">是一片狼籍。</tspan></text><path class="ul" d="M81 3761 H481"/></g>
<g id="b6e"><text class="t"><tspan x="92" y="3831.4">台风这么可怕，大家一定要好好学习防范台风</tspan><tspan x="92" dy="24.4">的知识，为自己的安全做出保障。</tspan></text><path class="ul" d="M81 3870.6 H481"/></g>

<g id="b8a"><text class="t"><tspan x="92" y="3940.3">近些日子，台风"莫拉克"即将来临。每天都是</tspan><tspan x="92" dy="24.4">白天阴沉沉的，到了晚上就开始狂风大作，倾</tspan><tspan x="92" dy="24.4">盆大雨。在晚上行走很不方便。雨点如同黄豆</tspan><tspan x="92" dy="24.4">一般，砸在人们撑开的雨伞和地上，发出："</tspan><tspan x="92" dy="24.4">噼里啪啦"的响声。风无情的刮着，刮在人脸</tspan><tspan x="92" dy="24.4">上感到生痛，可风调皮极了，连人们手里握着</tspan><tspan x="92" dy="24.4">的伞也不放过，把伞吹走了，人们要淋雨了，</tspan><tspan x="92" dy="24.4">它便发出"呼呼"的声音，得意的笑了。</tspan></text><path class="ul" d="M81 4124.4 H481"/></g>
<g id="b8b"><text class="t"><tspan x="92" y="4195.4">回到家里，妈妈连忙打开电视机，看看台风带</tspan><tspan x="92" dy="24.4">给各个地区的灾难。电视里每个频道都在播放</tspan><tspan x="92" dy="24.4">着"防台"以及："台风的威力"新闻。从电视上</tspan><tspan x="92" dy="24.4">了解到：台风对福建的影响最大。福建的降水</tspan><tspan x="92" dy="24.4">量达到了一米，已经在人们的腹部了，轮子中</tspan><tspan x="92" dy="24.4">间嵌一个不锈钢的脸盆，成为福建人在马路上</tspan><tspan x="92" dy="24.4">最普遍的交通工具。这时，我们把目光转移到</tspan><tspan x="92" dy="24.4">台湾。</tspan></text><path class="ul" d="M81 4380 H481"/></g>
<g id="b8c"><text class="t"><tspan x="92" y="4450">台湾的许多老房子都已经被淹没了，屋子里的</tspan><tspan x="92" dy="24.4">家电，都已经进水了，一些竹椅子，竹工艺品</tspan><tspan x="92" dy="24.4">都从屋子里漂了出来，台湾人民有些还不知道</tspan><tspan x="92" dy="24.4">台风的到来，觉得格外的突然，便爬上了屋顶</tspan><tspan x="92" dy="24.4">，等待救援。据说，台湾有一家八层楼的饭店</tspan><tspan x="92" dy="24.4">，因为禁不住雨水的冲刷，风雨的吹打，便在</tspan><tspan x="92" dy="24.4">小河里倒了下来，激起层层水花，记者说，光</tspan><tspan x="92" dy="24.4">光这激起的水花就高达20米。妈妈的嘴巴不</tspan><tspan x="92" dy="24.4">由得张开了，形成了一个大大的"o"。记者又</tspan><tspan x="92" dy="24.4">说，这次8号台风，是五十年罕见的12级大台</tspan><tspan x="92" dy="24.4">风。我和爸爸的嘴巴也逐渐成为了"0"。每年</tspan><tspan x="92" dy="24.4">暑假，台风来临的时候，也就是解放军们最忙</tspan><tspan x="92" dy="24.4">碌的时候，电视里，实际生活里，常常可以看</tspan><tspan x="92" dy="24.4">见他们的身影。他们在领导的带领下，慰问一</tspan><tspan x="92" dy="24.4">些这在老房子，住在山脚下的老百姓。把他们</tspan><tspan x="92" dy="24.4">转移到各个安全点，还给他们送去充饥的食物</tspan><tspan x="92" dy="24.4">，老百姓表示出对解放军的感激和赞美。最让</tspan><tspan x="92" dy="24.4">我们惊奇的就是"浴缸事件"了。</tspan></text><path class="ul" d="M81 4878.6 H481"/></g>
<g id="b8d"><text class="t"><tspan x="92" y="4949.6">群众发现了"浴缸事件"，连忙拨打了新闻热线</tspan><tspan x="92" dy="24.4">，主持人接到电话后，连忙派出记者前去了解</tspan><tspan x="92" dy="24.4">情况。记者赶到后也感到十分惊奇，原来，一</tspan><tspan x="92" dy="24.4">个白色、重达100多斤的浴缸，稳稳地架在了</tspan><tspan x="92" dy="24.4">几十米高的高压电线上。过路人，没有一个不</tspan><tspan x="92" dy="24.4">拍手叫绝的。这次台风给我们带来了一些灾难</tspan><tspan x="92" dy="24.4">，但人们早就做好了防备工作，没有任何人员</tspan><tspan x="92" dy="24.4">伤亡。</tspan></text><path class="ul" d="M81 5132.4 H481"/></g>

<g id="b10a"><text class="t"><tspan x="92" y="5204.3">台风会带来许多的灾害，造成人类生命和财产</tspan><tspan x="92" dy="24.4">的巨大损失，例如：水灾、土石流、浓雾被大</tspan><tspan x="92" dy="24.4">水冲走等，使得许多无辜的人家破人亡、流离</tspan><tspan x="92" dy="24.4">失所，生活陷入了无依无靠的困境。有时，农</tspan><tspan x="92" dy="24.4">民平时辛勤打拼、一点一滴栽培的稻米、蔬菜</tspan><tspan x="92" dy="24.4">结实累累即将收获之际，因为一场无情的台风</tspan><tspan x="92" dy="24.4">而来不及採收，眼看着一整年努力的心血被大</tspan><tspan x="92" dy="24.4">水淹没而血本无归，那种心在淌血的痛苦真是</tspan><tspan x="92" dy="24.4">笔墨难以形容。</tspan></text><path class="ul" d="M81 5413.5 H481"/></g>
<g id="b10b"><text class="t"><tspan x="92" y="5483">为了防范风灾带来的损失，在台风来临之前，</tspan><tspan x="92" dy="24.4">我们必须事先做好防台工作，以免造成难以弥</tspan><tspan x="92" dy="24.4">补的伤害。首先准备手电筒、电池、沙包和干</tspan><tspan x="92" dy="24.4">粮，"预防强风造成停电的紧急照明，以及豪</tspan><tspan x="92" dy="24.4">雨引发洪水可以用沙包阻挡水，以尽量减少家</tspan><tspan x="92" dy="24.4">俱泡水的损失。"此外，还要把阳台上的盆栽</tspan><tspan x="92" dy="24.4">搬移，堆放在一个不会被风吹倒的地方，防止</tspan><tspan x="92" dy="24.4">不小心被强风吹落而砸伤人。</tspan></text><path class="ul" d="M81 5668 H481"/></g>
<g id="b10c"><text class="t"><tspan x="92" y="5737.6">记得有一次台风外面强风暴雨吹的窗户呼呼作</tspan><tspan x="92" dy="24.4">响，整个屋顶就像要被掀起来一样非常恐怖。</tspan><tspan x="92" dy="24.4">我和妈妈正躲在客厅看电视时，突然碰的一声</tspan><tspan x="92" dy="24.4">，一棵大树被吹倒撞上了电线敢把电线在都打</tspan><tspan x="92" dy="24.4">断了，看到这种可怕的场面，害我下的差点屁</tspan><tspan x="92" dy="24.4">滚尿流，赶紧躲进棉被里，心理一直念着" "</tspan><tspan x="92" dy="24.4">，还把耳朵摀起来，不敢听恐怖的强风生想。</tspan><tspan x="92" dy="24.4">于是妈妈出去察看灾情，发现附近邻居的遮雨</tspan><tspan x="92" dy="24.4">蓬售不住强风掉下来了，向船一样在马路上飞</tspan><tspan x="92" dy="24.4">行，把旁边的路树挤的东倒西歪，真是可怕极</tspan><tspan x="92" dy="24.4">了。</tspan></text><path class="ul" d="M81 5995.8 H481"/></g>
<g id="b10d"><text class="t"><tspan x="92" y="6065.5">台风过后，许多的地方都被大水淹没、被土石</tspan><tspan x="92" dy="24.4">流埋没，不但许多人因此丧命，大自然也遭受</tspan><tspan x="92" dy="24.4">严重破坏。为了预防风灾的损失，我们应该尽</tspan><tspan x="92" dy="24.4">一份心力，大家有钱出钱有力出力，把自己的</tspan><tspan x="92" dy="24.4">零用钱捐给慈善机构，集合大家的力帮助那些</tspan><tspan x="92" dy="24.4">可怜的灾民，让他们早日走出风灾的恶梦，可</tspan><tspan x="92" dy="24.4">以和我们一样过着祥和的生活。</tspan></text><path class="ul" d="M81 6226 H481"/></g>
</g>
</svg>
